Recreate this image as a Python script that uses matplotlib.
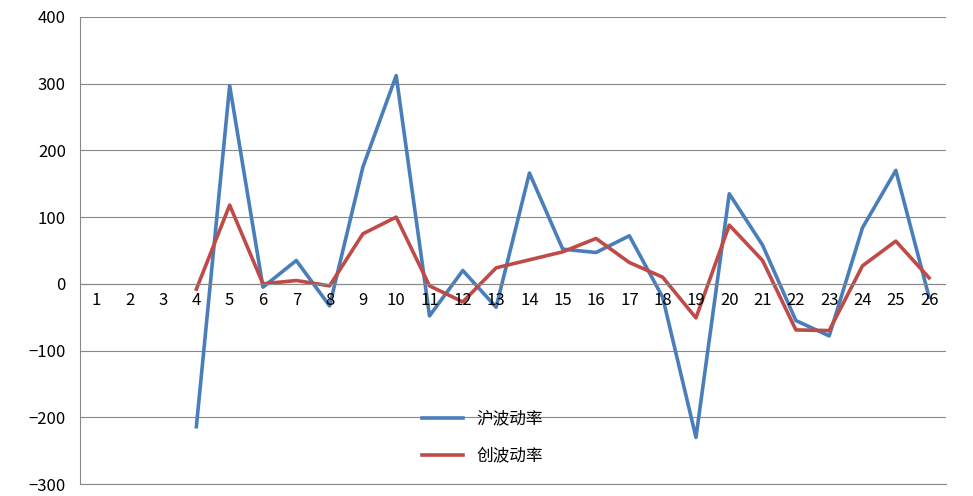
import numpy as np
import matplotlib
matplotlib.use('Agg')
import matplotlib.pyplot as plt

plt.rcParams['font.family'] = ['Noto Sans CJK SC', 'DejaVu Sans']

cats = list(range(1, 27))
x_hu = list(range(4, 27))
hu = [-214, 297, -5, 35, -33, 175, 312, -48, 20, -35, 166, 52, 47, 72, -20,
      -230, 135, 58, -55, -78, 84, 170, -20]
chuang = [-8, 118, 0, 5, -3, 75, 100, -3, -27, 24, 36, 48, 68, 32, 10,
          -51, 88, 35, -69, -70, 27, 64, 9]

fig = plt.figure(figsize=(9.73, 4.96), dpi=100)
ax = fig.add_axes([0.082, 0.024, 0.89, 0.942])
ax.plot(x_hu, hu, color='#4a7ebb', lw=2.6, label='沪波动率')
ax.plot(x_hu, chuang, color='#be4b48', lw=2.6, label='创波动率')

ax.set_xlim(0.5, 26.5)
ax.set_ylim(-300, 400)
ax.set_yticks(range(-300, 401, 100))
ax.yaxis.grid(True, color='#888888', lw=0.8)
ax.set_axisbelow(True)
for s in ['top', 'right']:
    ax.spines[s].set_visible(False)
ax.spines['left'].set_color('#888888')
ax.spines['bottom'].set_color('#888888')
ax.axhline(0, color='#888888', lw=0.8)
ax.tick_params(axis='y', length=0, labelsize=12, pad=10)
ax.set_xticks([])
for c in cats:
    ax.text(c, -12, str(c), ha='center', va='top', fontsize=12)

ax.legend(loc='center', bbox_to_anchor=(0.465, 0.1), frameon=False,
          fontsize=12, handlelength=2.5, labelspacing=1.2)
fig.savefig('out.png')
